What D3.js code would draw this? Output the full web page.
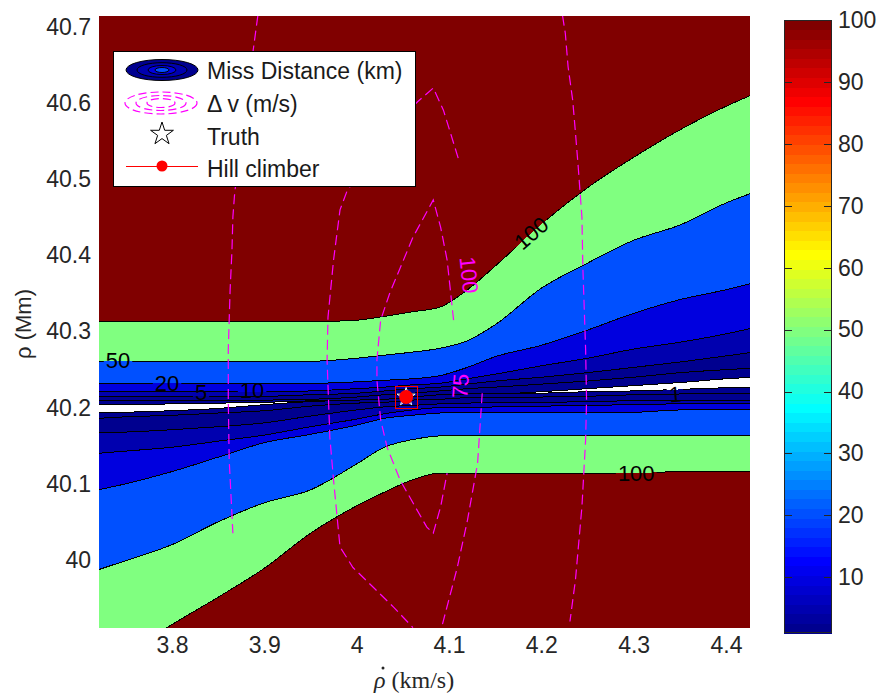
<!DOCTYPE html>
<html>
<head>
<meta charset="utf-8">
<script src="https://cdn.jsdelivr.net/npm/d3@7"></script>
<style>
  html, body { margin: 0; padding: 0; background: #fff; }
  svg { display: block; font-family: "Liberation Sans", Arial, sans-serif; }
  .tick text { fill: #262626; font-size: 23px; }
</style>
</head>
<body>
<svg id="chart" width="880" height="696"></svg>
<script>
// rho-dot positions (km/s) where the miss-distance contour edges were read
const xGrid = [3.72, 3.75, 3.80, 3.85, 3.90, 3.95, 4.00, 4.03, 4.06, 4.09, 4.12, 4.15, 4.20, 4.25, 4.30, 4.35, 4.40, 4.43];

// contour edges in rho (Mm): u* = above the miss-distance valley, l* = below it
const u100 = [40.313, 40.313, 40.313, 40.313, 40.313, 40.313, 40.315, 40.320, 40.326, 40.332, 40.355, 40.386, 40.441, 40.489, 40.529, 40.565, 40.596, 40.612];
const u50  = [40.261, 40.261, 40.261, 40.261, 40.261, 40.261, 40.265, 40.269, 40.273, 40.278, 40.288, 40.309, 40.357, 40.390, 40.420, 40.440, 40.469, 40.483];
const u20  = [40.232, 40.232, 40.232, 40.232, 40.232, 40.232, 40.234, 40.236, 40.238, 40.242, 40.253, 40.267, 40.282, 40.302, 40.324, 40.342, 40.355, 40.364];
const u10  = [40.221, 40.221, 40.221, 40.221, 40.221, 40.222, 40.225, 40.227, 40.230, 40.232, 40.238, 40.244, 40.255, 40.265, 40.277, 40.286, 40.297, 40.305];
const u5   = [40.215, 40.215, 40.215, 40.215, 40.215, 40.217, 40.219, 40.222, 40.225, 40.227, 40.231, 40.235, 40.240, 40.246, 40.253, 40.260, 40.268, 40.273];
const u2   = [40.210, 40.210, 40.210, 40.210, 40.210, 40.211, 40.214, 40.217, 40.219, 40.222, 40.225, 40.227, 40.231, 40.235, 40.240, 40.246, 40.250, 40.252];
const u1   = [40.204, 40.204, 40.205, 40.206, 40.207, 40.209, 40.210, 40.211, 40.214, 40.217, 40.218, 40.218, 40.221, 40.225, 40.229, 40.233, 40.238, 40.240];
const l1   = [40.193, 40.194, 40.196, 40.199, 40.204, 40.208, 40.210, 40.211, 40.214, 40.217, 40.218, 40.218, 40.219, 40.221, 40.222, 40.224, 40.226, 40.226];
const l2   = [40.186, 40.188, 40.190, 40.193, 40.196, 40.202, 40.206, 40.207, 40.210, 40.211, 40.213, 40.213, 40.214, 40.215, 40.217, 40.218, 40.219, 40.219];
const l5   = [40.167, 40.168, 40.171, 40.175, 40.180, 40.189, 40.197, 40.201, 40.203, 40.205, 40.206, 40.207, 40.207, 40.208, 40.209, 40.209, 40.210, 40.210];
const l10  = [40.140, 40.143, 40.148, 40.156, 40.164, 40.175, 40.185, 40.192, 40.197, 40.200, 40.200, 40.201, 40.202, 40.203, 40.204, 40.205, 40.205, 40.206];
const l20  = [40.092, 40.100, 40.116, 40.135, 40.154, 40.165, 40.177, 40.186, 40.190, 40.193, 40.194, 40.194, 40.194, 40.194, 40.194, 40.197, 40.197, 40.197];
const l50  = [39.987, 39.999, 40.020, 40.050, 40.075, 40.092, 40.126, 40.148, 40.158, 40.163, 40.164, 40.164, 40.164, 40.164, 40.164, 40.164, 40.164, 40.164];
const l100 = [39.853, 39.876, 39.915, 39.951, 39.989, 40.035, 40.071, 40.089, 40.105, 40.114, 40.114, 40.114, 40.114, 40.114, 40.114, 40.116, 40.116, 40.116];

const levels = [100, 50, 20, 10, 5, 2, 1];

// delta-v contours (dashed magenta), [rho-dot, rho] pairs
const dvA = [[3.893, 40.715], [3.888, 40.670], [3.881, 40.604], [3.874, 40.539], [3.868, 40.483], [3.866, 40.451], [3.865, 40.407], [3.863, 40.355], [3.861, 40.276], [3.861, 40.210], [3.862, 40.131], [3.866, 40.035]];
const dvB = [[4.110, 40.528], [4.094, 40.591], [4.083, 40.620], [4.066, 40.602], [4.042, 40.572], [4.015, 40.525], [3.990, 40.486], [3.982, 40.460], [3.975, 40.394], [3.969, 40.319], [3.968, 40.263], [3.971, 40.161], [3.975, 40.105], [3.982, 40.017], [3.996, 39.990], [4.018, 39.964], [4.040, 39.938], [4.061, 39.911]];
const dvC = [[4.105, 40.315], [4.098, 40.394], [4.091, 40.437], [4.083, 40.473], [4.061, 40.424], [4.036, 40.351], [4.026, 40.315], [4.022, 40.263], [4.022, 40.236], [4.026, 40.184], [4.033, 40.148], [4.047, 40.105], [4.061, 40.075], [4.076, 40.043], [4.083, 40.035], [4.091, 40.070], [4.098, 40.114]];
const dvD = [[4.136, 40.219], [4.131, 40.127], [4.120, 40.052], [4.109, 39.990], [4.092, 39.911]];
const dvE = [[4.223, 40.715], [4.226, 40.692], [4.229, 40.648], [4.234, 40.604], [4.237, 40.561], [4.240, 40.516], [4.244, 40.450], [4.245, 40.384], [4.248, 40.276], [4.249, 40.210], [4.248, 40.158], [4.244, 40.070], [4.237, 39.974], [4.231, 39.919]];

// inline contour labels
const mdLabelText  = ["50", "20", "5", "10", "100", "100", "1"];
const mdLabelX     = [3.7416, 3.7947, 3.8315, 3.8868, 4.1891, 4.3028, 4.345];
const mdLabelRho   = [40.2627, 40.2325, 40.2206, 40.2233, 40.4296, 40.1142, 40.218];
const mdLabelAngle = [0, 0, 0, 0, -41, 0, -5];
const mdLabelEdge  = ["u50", "u20", "u5", "u10", "u100", "l100", "l1"];

const dvLabelText  = ["100", "75"];
const dvLabelX     = [4.1219, 4.1121];
const dvLabelRho   = [40.3743, 40.2285];
const dvLabelAngle = [84, -86];

// hill climber solution
const climbX = 4.0536;
const climbRho = 40.214;

const xTicks = [3.8, 3.9, 4.0, 4.1, 4.2, 4.3, 4.4];
const yTicks = [40.0, 40.1, 40.2, 40.3, 40.4, 40.5, 40.6, 40.7];
const cbTicks = [10, 20, 30, 40, 50, 60, 70, 80, 90, 100];
const cMin = 1, cMax = 100;

const svg = d3.select("#chart");
const plot = { left: 99, top: 16, right: 750, bottom: 628 };

const x = d3.scaleLinear().domain([3.721, 4.426]).range([plot.left, plot.right]);
const y = d3.scaleLinear().domain([39.9105, 40.7147]).range([plot.bottom, plot.top]);

// MATLAB jet(64) looked up with clim [cMin, cMax]
function jet(v) {
  let i = Math.floor((v - cMin) / (cMax - cMin) * 64);
  i = Math.max(0, Math.min(63, i)) + 1;
  let r, g, b;
  if (i <= 8) { r = 0; g = 0; b = 0.5 + i / 16; }
  else if (i <= 24) { r = 0; g = (i - 8) / 16; b = 1; }
  else if (i <= 40) { r = (i - 24) / 16; g = 1; b = 1 - (i - 24) / 16; }
  else if (i <= 56) { r = 1; g = 1 - (i - 40) / 16; b = 0; }
  else { r = 1 - (i - 56) / 16; g = 0; b = 0; }
  return d3.rgb(r * 255, g * 255, b * 255).formatHex();
}

function fmt(v) {
  return String(Math.round(v * 10) / 10);
}

function starPath(cx, cy, R) {
  const pts = [];
  for (let k = 0; k < 10; k++) {
    const rr = k % 2 === 0 ? R : R * 0.382;
    const a = -Math.PI / 2 + k * Math.PI / 5;
    pts.push([cx + rr * Math.cos(a), cy + rr * Math.sin(a)]);
  }
  return "M" + pts.map(p => p.join(",")).join("L") + "Z";
}

const edges = {
  u100, u50, u20, u10, u5, u2, u1,
  l100, l50, l20, l10, l5, l2, l1
};

const defs = svg.append("defs");
defs.append("clipPath").attr("id", "plotClip")
  .append("rect")
  .attr("x", plot.left).attr("y", plot.top)
  .attr("width", plot.right - plot.left).attr("height", plot.bottom - plot.top);

const plotG = svg.append("g").attr("clip-path", "url(#plotClip)");

// background = region above the top level
plotG.append("rect")
  .attr("x", plot.left).attr("y", plot.top)
  .attr("width", plot.right - plot.left).attr("height", plot.bottom - plot.top)
  .attr("fill", jet(100));

const bandArea = d3.area()
  .x(d => x(d.x))
  .y0(d => y(d.lo))
  .y1(d => y(d.hi))
  .curve(d3.curveMonotoneX);

const edgeLine = d3.line()
  .x(d => x(d.x))
  .y(d => y(d.v))
  .curve(d3.curveMonotoneX);

levels.forEach((lev, k) => {
  const hi = edges["u" + lev], lo = edges["l" + lev];
  const inside = k + 1 < levels.length ? jet(levels[k + 1]) : "#ffffff";
  plotG.append("path")
    .datum(xGrid.map((xv, i) => ({ x: xv, hi: hi[i], lo: lo[i] })))
    .attr("d", bandArea)
    .attr("fill", inside)
    .attr("shape-rendering", "crispEdges");
});

// contour lines, broken where a label sits (like clabel inline)
const labelG = svg.append("g").attr("clip-path", "url(#plotClip)");
const labelBoxes = {};

mdLabelText.forEach((t, i) => {
  const g = labelG.append("g")
    .attr("transform", `translate(${x(mdLabelX[i])},${y(mdLabelRho[i])}) rotate(${mdLabelAngle[i]})`);
  const txt = g.append("text")
    .attr("text-anchor", "middle")
    .attr("dy", "0.36em")
    .attr("font-size", 22)
    .attr("fill", "#000")
    .text(t);
  const bb = txt.node().getBBox();
  const key = mdLabelEdge[i];
  (labelBoxes[key] = labelBoxes[key] || []).push({
    transform: g.attr("transform"), bb
  });
});

const lineG = plotG.append("g");
Object.keys(edges).forEach(key => {
  const path = lineG.append("path")
    .datum(xGrid.map((xv, i) => ({ x: xv, v: edges[key][i] })))
    .attr("d", edgeLine)
    .attr("fill", "none")
    .attr("stroke", "#000")
    .attr("stroke-width", 1)
    .attr("shape-rendering", "crispEdges");
  if (labelBoxes[key]) {
    const m = defs.append("mask").attr("id", "mask-" + key)
      .attr("maskUnits", "userSpaceOnUse")
      .attr("x", 0).attr("y", 0).attr("width", 880).attr("height", 696);
    m.append("rect").attr("width", 880).attr("height", 696).attr("fill", "#fff");
    labelBoxes[key].forEach(b => {
      m.append("g").attr("transform", b.transform)
        .append("rect")
        .attr("x", b.bb.x - 2).attr("y", b.bb.y + 1)
        .attr("width", b.bb.width + 4).attr("height", b.bb.height - 2)
        .attr("fill", "#000");
    });
    path.attr("mask", `url(#mask-${key})`);
  }
});

// delta-v contours
const dvLine = d3.line().x(d => x(d[0])).y(d => y(d[1]));
[dvA, dvB, dvC, dvD, dvE].forEach(pts => {
  plotG.append("path")
    .datum(pts)
    .attr("d", dvLine)
    .attr("fill", "none")
    .attr("stroke", "#ff00ff")
    .attr("stroke-width", 1.2)
    .attr("stroke-dasharray", "10,5");
});

dvLabelText.forEach((t, i) => {
  labelG.append("g")
    .attr("transform", `translate(${x(dvLabelX[i])},${y(dvLabelRho[i])}) rotate(${dvLabelAngle[i]})`)
    .append("text")
    .attr("text-anchor", "middle")
    .attr("dy", "0.36em")
    .attr("font-size", 22)
    .attr("fill", "#ff00ff")
    .text(t);
});

// truth + hill climber marker
const cx = x(climbX), cy = y(climbRho);
svg.append("rect")
  .attr("x", Math.round(cx - 11) + 0.5).attr("y", Math.round(cy - 11) + 0.5)
  .attr("width", 22).attr("height", 22)
  .attr("fill", "none").attr("stroke", "#ff0000").attr("stroke-width", 1);
svg.append("path")
  .attr("d", starPath(cx, cy, 9.5))
  .attr("fill", "none").attr("stroke", "#ffffff").attr("stroke-width", 1);
svg.append("circle")
  .attr("cx", cx).attr("cy", cy).attr("r", 7)
  .attr("fill", "#ff0000");

// axes (MATLAB ticks sit under the fill, so only labels show)
const xAxis = svg.append("g")
  .attr("transform", `translate(0,${plot.bottom})`)
  .call(d3.axisBottom(x).tickValues(xTicks).tickSize(0).tickPadding(9).tickFormat(fmt));
xAxis.select(".domain").remove();

const yAxis = svg.append("g")
  .attr("transform", `translate(${plot.left},0)`)
  .call(d3.axisLeft(y).tickValues(yTicks).tickSize(0).tickPadding(8).tickFormat(fmt));
yAxis.select(".domain").remove();

svg.selectAll(".tick text").attr("font-family", "Liberation Sans, Arial, sans-serif");

svg.append("text")
  .attr("transform", "translate(31,324) rotate(-90)")
  .attr("text-anchor", "middle")
  .attr("font-size", 22)
  .attr("fill", "#262626")
  .text("ρ (Mm)");

// x label: italic rho (time-derivative dot drawn above it), then the units
const xl = svg.append("text")
  .attr("x", 374).attr("y", 688)
  .attr("font-family", "Liberation Serif, Times New Roman, serif")
  .attr("font-size", 24)
  .attr("fill", "#262626");
xl.append("tspan").attr("font-style", "italic").text("ρ");
xl.append("tspan").text(" (km/s)");
svg.append("circle")
  .attr("cx", 383).attr("cy", 668).attr("r", 1.5)
  .attr("fill", "#262626");

// colorbar
const cb = { left: 784, right: 832, top: 20, bottom: 633 };
const cbY = d3.scaleLinear().domain([cMin, cMax]).range([cb.bottom, cb.top]);
const cbSteps = d3.range(64).map(k => cMin + k * (cMax - cMin) / 64);
const cbStep = (cMax - cMin) / 64;
svg.append("g").selectAll("rect")
  .data(cbSteps)
  .enter().append("rect")
  .attr("x", cb.left)
  .attr("y", d => cbY(d + cbStep))
  .attr("width", cb.right - cb.left)
  .attr("height", d => cbY(d) - cbY(d + cbStep) + 0.5)
  .attr("fill", d => jet(d + cbStep / 2))
  .attr("shape-rendering", "crispEdges");

svg.append("rect")
  .attr("x", cb.left + 0.5).attr("y", cb.top + 0.5)
  .attr("width", cb.right - cb.left - 1).attr("height", cb.bottom - cb.top - 1)
  .attr("fill", "none").attr("stroke", "#262626").attr("stroke-width", 1);

const cbTickG = svg.append("g");
cbTicks.filter(v => v < cMax).forEach(v => {
  cbTickG.append("line")
    .attr("x1", cb.left).attr("x2", cb.left + 8)
    .attr("y1", Math.round(cbY(v)) + 0.5).attr("y2", Math.round(cbY(v)) + 0.5)
    .attr("stroke", "#262626");
  cbTickG.append("line")
    .attr("x1", cb.right - 8).attr("x2", cb.right)
    .attr("y1", Math.round(cbY(v)) + 0.5).attr("y2", Math.round(cbY(v)) + 0.5)
    .attr("stroke", "#262626");
});

const cbAxis = svg.append("g")
  .attr("transform", `translate(${cb.right},0)`)
  .call(d3.axisRight(cbY).tickValues(cbTicks).tickSize(0).tickPadding(6).tickFormat(fmt));
cbAxis.select(".domain").remove();

// legend
const lg = svg.append("g");
lg.append("rect")
  .attr("x", 113.5).attr("y", 51.5).attr("width", 302).attr("height", 135)
  .attr("fill", "#fff").attr("stroke", "#000").attr("stroke-width", 1);

const mdIcon = [[36, 10.5, 1], [25, 7.3, 5], [14, 4.5, 10], [7, 2.5, 20]];
mdIcon.forEach(([rx, ry, lev]) => {
  lg.append("ellipse")
    .attr("cx", 162).attr("cy", 70).attr("rx", rx).attr("ry", ry)
    .attr("fill", jet(lev))
    .attr("stroke", "#000").attr("stroke-width", 1);
});

[[36, 11], [25, 7.5], [14, 4.5]].forEach(([rx, ry]) => {
  lg.append("ellipse")
    .attr("cx", 161).attr("cy", 103).attr("rx", rx).attr("ry", ry)
    .attr("fill", "none").attr("stroke", "#ff00ff").attr("stroke-width", 1.2)
    .attr("stroke-dasharray", "8,4");
});

lg.append("path")
  .attr("d", starPath(162, 134, 12))
  .attr("fill", "none").attr("stroke", "#000").attr("stroke-width", 1);

lg.append("line")
  .attr("x1", 126).attr("x2", 198).attr("y1", 166.5).attr("y2", 166.5)
  .attr("stroke", "#ff0000").attr("stroke-width", 1);
lg.append("circle").attr("cx", 162).attr("cy", 166).attr("r", 5.5).attr("fill", "#ff0000");

const legendText = ["Miss Distance (km)", "Δ v (m/s)", "Truth", "Hill climber"];
const legendBase = [79, 112, 145, 177];
legendText.forEach((t, i) => {
  lg.append("text")
    .attr("x", 207).attr("y", legendBase[i])
    .attr("font-size", 23)
    .attr("fill", "#1a1a1a")
    .text(t);
});
</script>
</body>
</html>
